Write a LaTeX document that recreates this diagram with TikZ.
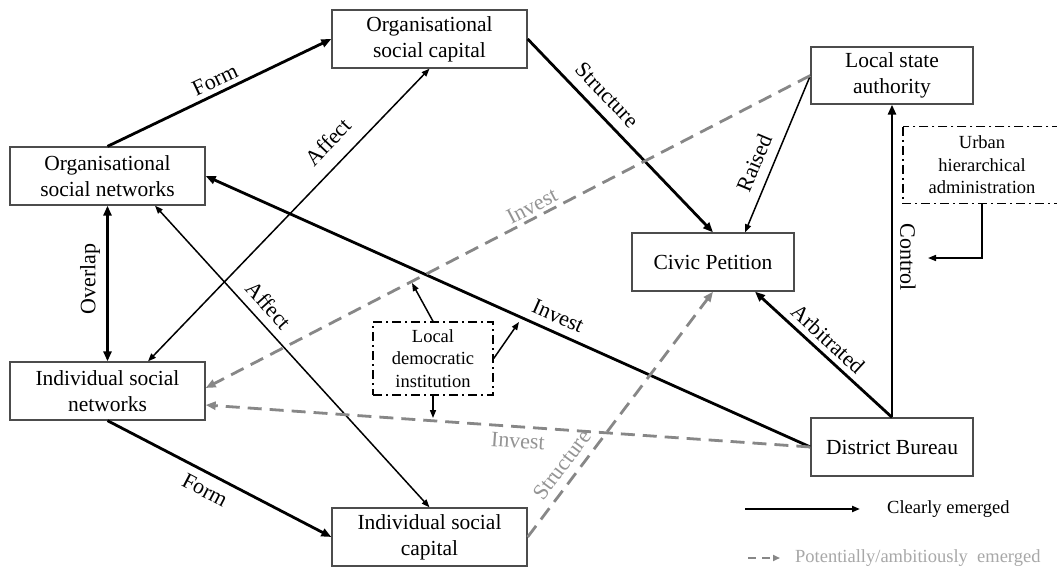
\documentclass[tikz,border=0pt]{standalone}
\usepackage{fontspec}
\setmainfont{Liberation Serif}
\usetikzlibrary{arrows.meta,calc}
\definecolor{boxline}{gray}{0.30}
\definecolor{dashgray}{gray}{0.53}
\definecolor{labgray}{gray}{0.58}
\definecolor{leggray}{gray}{0.66}

\begin{document}
\begin{tikzpicture}[x=1pt,y=-1pt,
  box/.style={draw=boxline, line width=1.3pt, align=center, inner sep=0pt,
    font=\fontsize{21.5}{26}\selectfont},
  dashdot/.style={draw=black, line width=1.4pt,
    dash pattern=on 9pt off 4pt on 2pt off 4pt},
  note/.style={align=center, inner sep=0pt, font=\fontsize{18.5}{22.5}\selectfont},
  lab/.style={font=\fontsize{22}{24}\selectfont, inner sep=0pt},
  graylab/.style={lab, text=labgray},
  strong/.style={line width=2.8pt, -{Triangle[length=10pt,width=8pt]}},
  strongboth/.style={line width=2.8pt, {Triangle[length=10pt,width=8pt]}-{Triangle[length=10pt,width=8pt]}},
  weak/.style={line width=1.5pt, -{Triangle[length=8pt,width=6pt]}},
  weakboth/.style={line width=1.5pt, {Triangle[length=8pt,width=6pt]}-{Triangle[length=8pt,width=6pt]}},
  potential/.style={draw=dashgray, line width=2.8pt, dash pattern=on 14pt off 8pt,
    -{Triangle[length=10pt,width=8pt]}},
  legtext/.style={anchor=west, inner sep=0pt, font=\fontsize{18.5}{22}\selectfont},
]
\useasboundingbox (0,0) rectangle (1057,567);
\fill[white] (0,0) rectangle (1057,567);

% actors and capitals
\node[box, minimum width=195pt, minimum height=58pt] (osc) at (429.5,39) {Organisational\\social capital};
\node[box, minimum width=195pt, minimum height=58pt] (osn) at (107.5,176) {Organisational\\social networks};
\node[box, minimum width=195pt, minimum height=58pt] (isn) at (107.5,391) {Individual social\\networks};
\node[box, minimum width=195pt, minimum height=58pt] (isc) at (429.5,537) {Individual social\\capital};
\node[box, minimum width=162pt, minimum height=58pt] (cp) at (713,262) {Civic Petition};
\node[box, minimum width=162pt, minimum height=57pt] (lsa) at (892,75.5) {Local state\\authority};
\node[box, minimum width=162pt, minimum height=58pt] (db) at (892,447) {District Bureau};

% contextual factors (dash-dotted frames)
\node[note, dashdot, minimum width=120pt, minimum height=73pt] (ldi) at (433,358.5) {Local\\democratic\\institution};
\node[note, minimum width=158pt, minimum height=76pt] (uha) at (982,165) {Urban\\hierarchical\\administration};
\draw[dashdot] (uha.north west) rectangle ([xshift=25pt]uha.south east);

% clearly emerged relations
\draw[strong] (osn.north) -- (osc.west);
\node[lab, rotate=25.3] (lForm1) at (215,80) {Form};
\draw[strong] (osc.east) -- (cp.north);
\node[lab, rotate=-46.2] (lStruct1) at (607,95) {Structure};
\draw[weak] (lsa.west) -- ([xshift=32pt]cp.north);
\node[lab, rotate=67.2] (lRaised) at (754,163) {Raised};
\draw[strong] (db.north) -- (lsa.south);
\node[lab, rotate=-90] (lControl) at (908,257) {Control};
\draw[strong] (db.north) -- ([xshift=42pt]cp.south);
\node[lab, rotate=-42.6] (lArb) at (828,339) {Arbitrated};
\draw[strong] (db.west) -- (osn.east);
\node[lab, rotate=-24.0] (lInvest1) at (558,316) {Invest};
\draw[strong] (isn.south) -- (isc.west);
\node[lab, rotate=-27.6] (lForm2) at (205,490) {Form};
\draw[strongboth] (osn.south) -- (isn.north);
\node[lab, rotate=90] (lOverlap) at (90,279) {Overlap};
\draw[weakboth] ([xshift=40.5pt]isn.north) -- (osc.south);
\node[lab, rotate=46.4] (lAffect1) at (328,142) {Affect};
\draw[weakboth] ([xshift=47.5pt]osn.south) -- (isc.north);
\node[lab, rotate=-48.1] (lAffect2) at (269,305) {Affect};

% potentially emerged relations
\draw[potential] (lsa.west) -- ([yshift=3pt]isn.east);
\node[graylab, rotate=27.3] (lInvest2) at (532,206) {Invest};
\draw[potential] (db.west) -- ([yshift=-14pt]isn.east);
\node[graylab, rotate=-4.0] (lInvest3) at (518,441) {Invest};
\draw[potential] (isc.east) -- (cp.south);
\node[graylab, rotate=53.0] (lStruct2) at (562,465) {Structure};

% influence of the contextual factors
\coordinate (ldiA) at (412,283);
\coordinate (ldiB) at (519,322);
\coordinate (ldiC) at (433,418);
\coordinate (uhaA) at (928,258);
\draw[weak] (ldi.north) -- (ldiA);
\draw[weak] (ldi.east) -- (ldiB);
\draw[weak] (ldi.south) -- (ldiC);
\draw[weak] (uha.south) |- (uhaA);

% legend
\coordinate (legA1) at (745,509);
\coordinate (legA2) at (860,509);
\coordinate (legB1) at (748,558);
\coordinate (legB2) at (780,558);
\draw[line width=2.6pt, -{Triangle[length=8pt,width=6pt]}] (legA1) -- (legA2);
\node[legtext] (legAt) at (887,509) {Clearly emerged};
\draw[draw=dashgray, line width=2.4pt, dash pattern=on 8pt off 6pt,
  -{Triangle[length=7pt,width=6pt]}] (legB1) -- (legB2);
\node[legtext, text=leggray] (legBt) at (795,558) {Potentially/ambitiously\ \ emerged};
\end{tikzpicture}
\end{document}
